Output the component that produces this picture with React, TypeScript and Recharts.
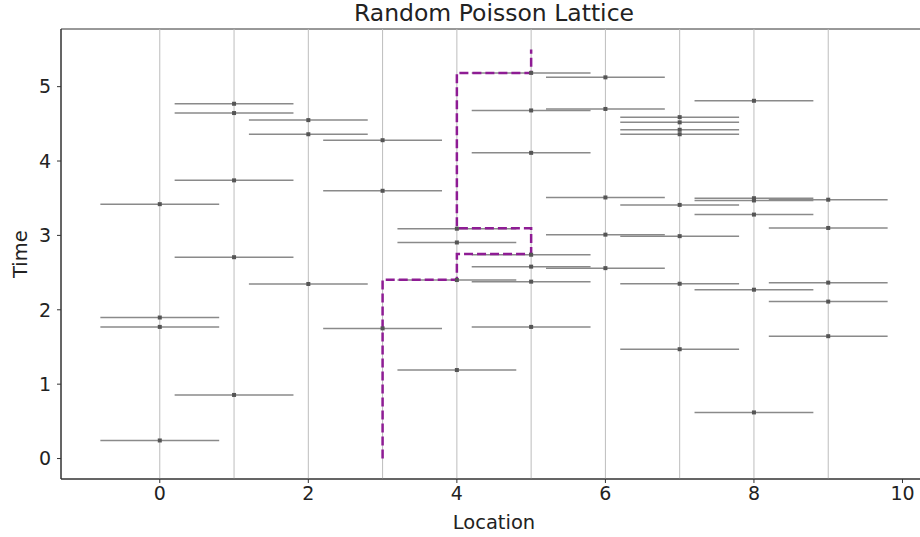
import React from 'react';
import { ComposedChart, Scatter, Line, XAxis, YAxis, ReferenceLine, ReferenceArea, ErrorBar } from 'recharts';

// event times at each lattice location
const timesAt0 = [3.42, 1.896, 1.77, 0.243];
const timesAt1 = [4.77, 4.645, 3.74, 2.707, 0.855];
const timesAt2 = [4.55, 4.36, 2.347];
const timesAt3 = [4.28, 3.6, 1.75];
const timesAt4 = [3.09, 2.905, 2.4, 1.19];
const timesAt5 = [5.185, 4.68, 4.11, 2.74, 2.58, 2.378, 1.77];
const timesAt6 = [5.125, 4.7, 3.51, 3.01, 2.56];
const timesAt7 = [4.59, 4.52, 4.42, 4.36, 3.41, 2.99, 2.35, 1.47];
const timesAt8 = [4.81, 3.5, 3.47, 3.28, 2.27, 0.62];
const timesAt9 = [3.48, 3.1, 2.365, 2.11, 1.645];

const locations = [0, 1, 2, 3, 4, 5, 6, 7, 8, 9];
const allTimes = [timesAt0, timesAt1, timesAt2, timesAt3, timesAt4, timesAt5, timesAt6, timesAt7, timesAt8, timesAt9];
const halfWidth = 0.8;

// the dashed path through the lattice
const pathX = [3, 3, 4, 4, 5, 5, 4, 4, 5, 5];
const pathT = [0, 2.405, 2.405, 2.75, 2.75, 3.095, 3.095, 5.185, 5.185, 5.5];

const xTicks = [0, 2, 4, 6, 8, 10];
const yTicks = [0, 1, 2, 3, 4, 5];
const xDomain = [-1.33, 10.33];
const yDomain = [-0.275, 5.775];

const events = locations.flatMap((loc, i) => allTimes[i].map((t) => ({ x: loc, t, err: halfWidth })));
const path = pathX.map((x, i) => ({ x, t: pathT[i] }));

const font = 'DejaVu Sans, sans-serif';

const Dot = (props: any) => {
    const { cx, cy } = props;
    if (cx == null || cy == null) return <g />;
    return <rect x={cx - 2} y={cy - 2} width={4} height={4} fill="#555555" />;
};

const App: React.FC = () => {
    return (
        <div style={{ position: 'absolute', left: 0, top: 0, width: 920, height: 537, overflow: 'hidden', background: '#fff', fontFamily: font }}>
            <div style={{ position: 'absolute', left: 61, width: 866, top: 1, lineHeight: '24px', textAlign: 'center', fontSize: 23.5, color: '#222' }}>
                Random Poisson Lattice
            </div>
            <ComposedChart width={935} height={537} margin={{ top: 29, right: 8, bottom: 0, left: 0 }}>
                <XAxis
                    type="number"
                    dataKey="x"
                    domain={xDomain}
                    allowDataOverflow
                    ticks={xTicks}
                    interval={0}
                    stroke="#333"
                    tickSize={4}
                    tickMargin={4}
                    tick={{ fill: '#222', fontSize: 19, fontFamily: font }}
                    height={58}
                    label={{ value: 'Location', position: 'insideBottom', offset: 8, fill: '#222', fontSize: 19.5, fontFamily: font }}
                />
                <YAxis
                    type="number"
                    dataKey="t"
                    domain={yDomain}
                    allowDataOverflow
                    ticks={yTicks}
                    interval={0}
                    stroke="#333"
                    tickSize={4}
                    tickMargin={6}
                    tick={{ fill: '#222', fontSize: 19, fontFamily: font }}
                    width={61}
                    label={{ value: 'Time', angle: -90, position: 'insideLeft', offset: 20, dy: 24, fill: '#222', fontSize: 19.5, fontFamily: font }}
                />
                {locations.map((loc) => (
                    <ReferenceLine key={loc} x={loc} stroke="#bdbdbd" strokeWidth={1} />
                ))}
                <Scatter data={events} dataKey="t" shape={Dot} isAnimationActive={false}>
                    <ErrorBar dataKey="err" direction="x" width={0} stroke="#8a8a8a" strokeWidth={1.5} />
                </Scatter>
                <Line
                    data={path}
                    dataKey="t"
                    type="linear"
                    stroke="#8e1c94"
                    strokeWidth={2.5}
                    strokeDasharray="9 4"
                    dot={false}
                    activeDot={false}
                    isAnimationActive={false}
                />
                <ReferenceArea x1={xDomain[0]} x2={xDomain[1]} y1={yDomain[0]} y2={yDomain[1]} fill="none" stroke="#333" strokeWidth={1} />
            </ComposedChart>
        </div>
    );
};

export default App;
